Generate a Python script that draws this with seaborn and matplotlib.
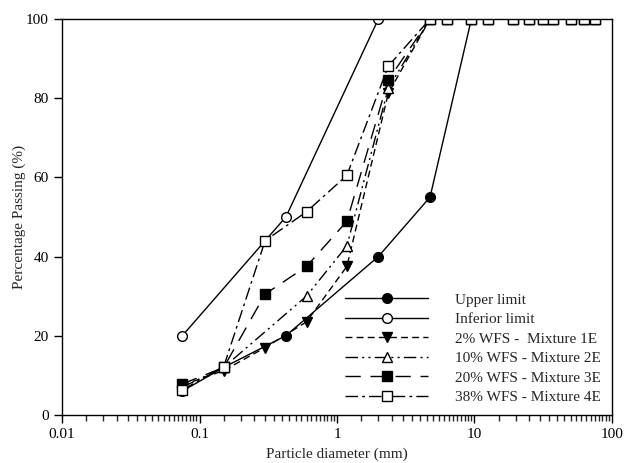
import matplotlib
matplotlib.use("Agg")
import matplotlib.pyplot as plt
import matplotlib.ticker as mticker
import numpy as np
import pandas as pd
import seaborn as sns

# ---- data ----
top_sieves = [4.75, 6.3, 9.5, 12.5, 19, 25, 31.5, 37.5, 50, 63, 75]

upper_x = [0.075, 0.15, 0.425, 2.0, 4.75, 9.5, 12.5, 19, 25, 31.5, 37.5, 50, 63, 75]
upper_y = [6, 12, 20, 40, 55, 100, 100, 100, 100, 100, 100, 100, 100, 100]

inferior_x = [0.075, 0.425, 2.0] + top_sieves
inferior_y = [20, 50, 100] + [100] * len(top_sieves)

mix_x = [0.075, 0.15, 0.3, 0.6, 1.18, 2.36] + top_sieves
mix1_y = [7.5, 11.2, 17, 23.5, 37.5, 81.2] + [100] * len(top_sieves)

mix2_x = [0.075, 0.15, 0.6, 1.18, 2.36] + top_sieves
mix2_y = [7.0, 12, 30, 42.7, 82.5] + [100] * len(top_sieves)

mix3_y = [7.8, 12, 30.5, 37.5, 48.9, 84.6] + [100] * len(top_sieves)
mix4_y = [6.3, 12.2, 44.0, 51.3, 60.5, 88.1] + [100] * len(top_sieves)

labels = ["Upper limit", "Inferior limit", "2% WFS -  Mixture 1E",
          "10% WFS - Mixture 2E", "20% WFS - Mixture 3E", "38% WFS - Mixture 4E"]

# ---- style ----
sns.set_style("ticks")
plt.rcParams["font.family"] = ["Liberation Serif", "DejaVu Serif"]
plt.rcParams["font.size"] = 11

fig = plt.figure(figsize=(6.27, 4.63), dpi=100)
ax = fig.add_axes([0.099, 0.104, 0.877, 0.855])

series = [
    (upper_x, upper_y, dict(marker="o", markerfacecolor="black", linestyle="-")),
    (inferior_x, inferior_y, dict(marker="o", markerfacecolor="white", linestyle="-")),
    (mix_x, mix1_y, dict(marker="v", markerfacecolor="black", dashes=(5, 3))),
    (mix2_x, mix2_y, dict(marker="^", markerfacecolor="white", dashes=(9, 3, 1.5, 3, 1.5, 3))),
    (mix_x, mix3_y, dict(marker="s", markerfacecolor="black", dashes=(11, 7))),
    (mix_x, mix4_y, dict(marker="s", markerfacecolor="white", dashes=(9, 3, 2, 3))),
]

for (xs, ys, kw), lab in zip(series, labels):
    df = pd.DataFrame({"x": xs, "y": ys})
    sns.lineplot(data=df, x="x", y="y", ax=ax, color="black", linewidth=1.0,
                 markersize=7, markeredgecolor="black", markeredgewidth=1.0,
                 errorbar=None, sort=False, label=lab, **kw)

ax.set_xscale("log")
ax.set_xlim(0.01, 100)
ax.set_ylim(0, 100)
ax.set_yticks([0, 20, 40, 60, 80, 100])
ax.xaxis.set_major_locator(mticker.FixedLocator([0.01, 0.1, 1, 10, 100]))
ax.xaxis.set_major_formatter(mticker.FixedFormatter(["0.01", "0.1", "1", "10", "100"]))
ax.xaxis.set_minor_locator(mticker.LogLocator(base=10, subs=np.arange(1.5, 10, 0.5), numticks=20))
ax.xaxis.set_minor_formatter(mticker.NullFormatter())

for s in ax.spines.values():
    s.set_visible(True)
    s.set_linewidth(1.0)
    s.set_color("black")

ax.tick_params(axis="both", which="major", direction="out", length=6, width=1,
               labelsize=11, colors="black")
ax.tick_params(axis="x", which="minor", direction="out", length=4, width=1)

ax.set_xlabel("Particle diameter (mm)", fontsize=11, labelpad=5)
ax.set_ylabel("Percentage Passing (%)", fontsize=11, labelpad=0)

leg = ax.legend(loc="lower right", frameon=False, handlelength=5.4, fontsize=11,
                borderaxespad=0.3, labelspacing=0.38, handletextpad=1.8,
                bbox_to_anchor=(1.0, 0.0))

fig.savefig("out.png", dpi=100, facecolor="white")
